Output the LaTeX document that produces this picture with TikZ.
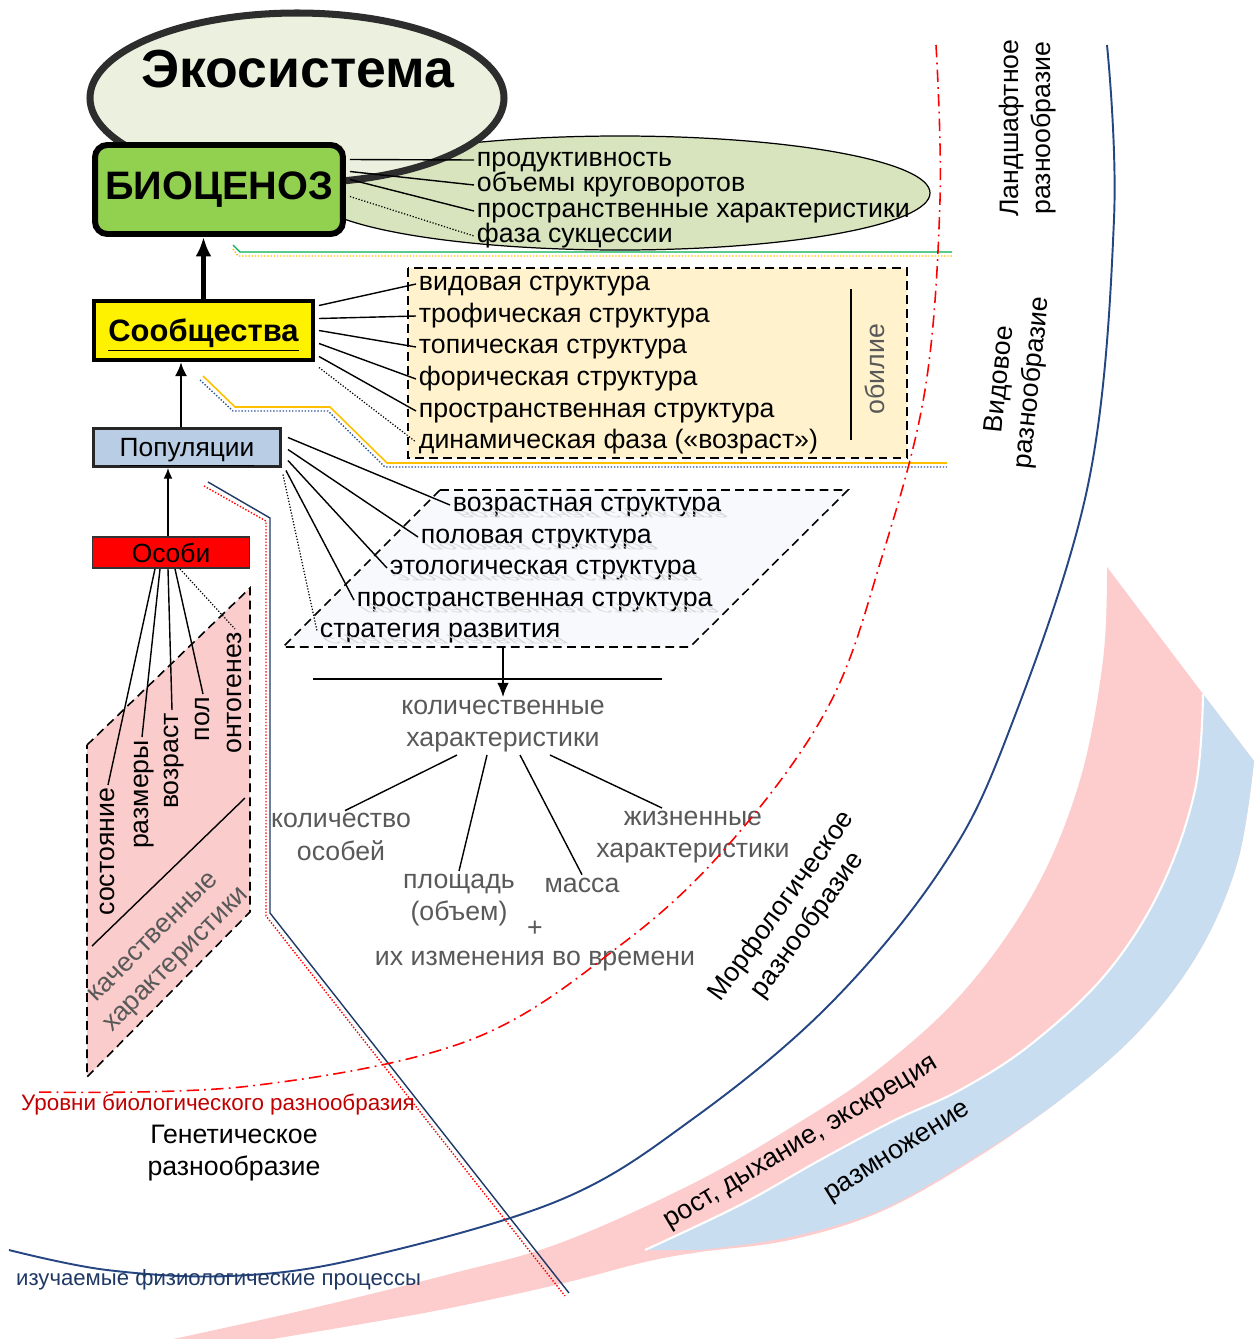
\documentclass[tikz,border=0pt]{standalone}
\usepackage{fontspec}
\setmainfont{Liberation Sans}
\usetikzlibrary{calc,arrows.meta}
\definecolor{ecofill}{RGB}{235,241,222}
\definecolor{ecoline}{RGB}{45,45,45}
\definecolor{biofill}{RGB}{146,208,80}
\definecolor{bioell}{RGB}{215,228,189}
\definecolor{commfill}{RGB}{255,242,204}
\definecolor{popfill}{RGB}{185,205,229}
\definecolor{parafill}{RGB}{247,249,252}
\definecolor{indfill}{RGB}{251,204,204}
\definecolor{bandred}{RGB}{253,204,204}
\definecolor{bandblue}{RGB}{200,222,240}
\definecolor{navyline}{RGB}{37,70,130}
\definecolor{navytext}{RGB}{31,56,100}
\definecolor{levelred}{RGB}{192,0,0}
\definecolor{softgray}{RGB}{89,89,89}
\definecolor{lineorange}{RGB}{255,192,0}
\definecolor{linegreen}{RGB}{0,176,80}
\definecolor{linedotblue}{RGB}{47,85,151}

\tikzset{
  txt/.style={font=\fontsize{15.2}{18.5}\selectfont, inner sep=1.5pt, text height=9.9pt, text depth=2pt},
  item/.style={txt, anchor=west},
  vtxt/.style={txt, rotate=90, anchor=east},
  multi/.style={font=\fontsize{15.2}{18.3}\selectfont, align=center, inner sep=1.5pt},
  qtext/.style={multi, text=softgray},
  mirror/.style={txt, anchor=base west, text=black!15, transform shape, yscale=-0.45, xslant=0.7},
  link/.style={line width=0.8pt},
  dotlink/.style={line width=0.7pt, densely dotted},
  boxdash/.style={line width=0.9pt, dash pattern=on 5pt off 3pt},
  levelline/.style={red, line width=0.9pt, dash pattern=on 7pt off 3pt on 1pt off 3pt},
  navyarc/.style={navyline, line width=1.1pt},
  biobox/.style={draw, line width=3.4pt, rounded corners=7pt, fill=biofill, minimum width=4.96cm, minimum height=1.78cm, font=\bfseries\fontsize{22.6}{27}\selectfont},
  socbox/.style={draw, line width=2.3pt, fill=yellow, minimum width=4.38cm, minimum height=1.18cm, text height=13.6pt, text depth=1pt, font=\bfseries\fontsize{17.6}{21}\selectfont},
  popbox/.style={draw=black!85, line width=1.7pt, fill=popfill, minimum width=3.74cm, minimum height=0.76cm, text height=12pt, text depth=1.2pt, font=\fontsize{15}{18}\selectfont},
  indbox/.style={draw=black!80, line width=0.9pt, fill=red, minimum width=3.14cm, minimum height=0.6cm, font=\fontsize{15}{18}\selectfont},
}

\begin{document}
\begin{tikzpicture}[x=0.02cm,y=-0.02cm]
\useasboundingbox (0,0) rectangle (1256,1339);

% bands of the physiological processes
\fill[bandred] plot[smooth, tension=0.6] coordinates {(1107,567) (1103,660) (1080,780) (1035,890) (965,990) (880,1068) (790,1128) (690,1185) (560,1243) (450,1274) (300,1311) (150,1344)}
  -- plot[smooth, tension=0.6] coordinates {(230,1346) (350,1326) (450,1308) (560,1284) (645,1262) (700,1252) (790,1240) (880,1212) (970,1162) (1060,1100) (1140,1030) (1200,950) (1238,860) (1254,761)} -- (1203,694) -- cycle;
\fill[bandblue] plot[smooth, tension=0.6] coordinates {(1203,694) (1195,790) (1160,890) (1105,975) (1030,1045) (960,1090) (895,1120) (820,1160) (740,1205) (645,1250)}
  -- plot[smooth, tension=0.6] coordinates {(700,1250) (790,1237) (880,1210) (970,1160) (1060,1100) (1140,1030) (1200,950) (1238,860) (1254,761)} -- cycle;
\draw[white, line width=1.2pt] plot[smooth, tension=0.6] coordinates {(1203,694) (1195,790) (1160,890) (1105,975) (1030,1045) (960,1090) (895,1120) (820,1160) (740,1205) (645,1250)};

\draw[navyarc] plot[smooth, tension=0.6] coordinates {(1107,45) (1114,219) (1088,485) (1006,739) (939,872) (828,1006) (694,1118) (560,1200) (357,1259) (229,1276) (107,1270) (9,1250)};

% borders between the levels
\draw[linegreen, line width=0.8pt] (233,245) -- (240,252) -- (952,252);
\draw[lineorange, densely dotted, line width=0.8pt] (233,249) -- (238,256) -- (952,256);
\draw[lineorange, line width=0.9pt] (203,376) -- (235,407) -- (330,407) -- (387,463) -- (947,463);
\draw[linedotblue, densely dotted, line width=0.8pt] (200,380) -- (233,411) -- (328,411) -- (385,467) -- (947,467);
\draw[red, densely dotted, line width=0.8pt] (204,486) -- (266,521) -- (266,916) -- (565,1296);
\draw[navytext, line width=0.8pt] (208,482) -- (270,518) -- (270,913) -- (569,1293);

% ecosystem, biocoenosis
\draw[line width=0.7pt, fill=bioell] (620,193) ellipse [x radius=310, y radius=57];
\draw[ecoline, line width=4pt, fill=ecofill] (297,98) ellipse [x radius=207, y radius=85];
\node[font=\bfseries\fontsize{30.5}{36}\selectfont] (eco) at (298,69) {Экосистема};
\node[biobox] (bio) at (219,189.5) {БИОЦЕНОЗ};
\node[item] (prod) at (474,160) {продуктивность};
\node[item] (cyc) at (474,185) {объемы круговоротов};
\node[item] (spchar) at (474,211) {пространственные характеристики};
\node[item] (succ) at (474,236) {фаза сукцессии};
\foreach \dy/\nm/\st in {-30/prod/link, -18/cyc/link, -10/spchar/link, 7/succ/dotlink}
  \draw[\st] ($(bio.east)+(4,\dy)$) -- (\nm.west);

% communities
\draw[boxdash, fill=commfill] (408,268) rectangle (907,458);
\node[socbox] (soc) at (203.5,330.5) {\underline{Сообщества}};
\draw[-{Latex[length=11pt,width=9pt]}, line width=2.4pt] (soc.north) -- (soc.north |- bio.south);
\node[item] (spec) at (416,284) {видовая структура};
\node[item] (troph) at (416,316) {трофическая структура};
\node[item] (topic) at (416,347) {топическая структура};
\node[item] (phor) at (416,379) {форическая структура};
\node[item] (cspat) at (416,411) {пространственная структура};
\node[item] (dyn) at (416,442) {динамическая фаза («возраст»)};
\foreach \dy/\nm/\st in {-25/spec/link, -12/troph/link, 0/topic/link, 13/phor/link, 26/cspat/link, 37/dyn/dotlink}
  \draw[\st] ($(soc.east)+(4,\dy)$) -- (\nm.west);
\draw[link] (851,289) -- (851,440);
\node[txt, rotate=90, text=softgray] (abund) at (878,369) {обилие};

% populations
\node[popbox] (pop) at (187,447.5) {\underline{Популяции}};
\draw[-{Latex[length=8pt,width=7pt]}, line width=1.7pt] (pop.north) ++(-6,0) coordinate (pu) -- (pu |- soc.south);
\draw[boxdash, fill=parafill] (440,490) -- (848,490) -- (690,647) -- (283,647) -- cycle;
\coordinate (parabot) at (503,647);
\node[item] (age) at (450,505) {возрастная структура};
\node[item] (sex) at (418,537) {половая структура};
\node[item] (etho) at (387,568) {этологическая структура};
\node[item] (pspat) at (354,600) {пространственная структура};
\node[item] (strat) at (317,631) {стратегия развития};
\foreach \nm/\tx in {age/возрастная структура, sex/половая структура, etho/этологическая структура, pspat/пространственная структура, strat/стратегия развития}
  \node[mirror] at (\nm.base west) {\tx};
\foreach \dx/\dy/\nm/\st in {6/-10/age/link, 6/2/sex/link, 6/13/etho/link, 4/23/pspat/link, 1/27/strat/dotlink}
  \draw[\st] ($(pop.east)+(\dx,\dy)$) -- (\nm.west);

% quantitative characteristics
\draw[link] (313,679) -- (662,679);
\node[qtext] (qty) at (503,726) {количественные\\характеристики};
\draw[-{Latex[length=8pt,width=6.5pt]}, link] (parabot) -- (qty.north);
\node[qtext] (cnt) at (341,837) {количество\\особей};
\node[qtext] (area) at (459,900) {площадь\\(объем)};
\node[qtext] (mass) at (582,885) {масса};
\node[qtext] (life) at (693,837) {жизненные\\характеристики};
\node[qtext] (plus) at (535,929) {+};
\node[qtext] (chg) at (535,961) {их изменения во времени};
\draw[link] ($(qty.south)+(-46,0)$) -- ($(cnt.north)+(4,0)$);
\draw[link] ($(qty.south)+(-16,0)$) -- (area.north);
\draw[link] ($(qty.south)+(17,0)$) -- (mass.north);
\draw[link] ($(qty.south)+(47,0)$) -- ($(life.north)+(-31,0)$);

% individuals
\node[indbox] (ind) at (171,552.5) {Особи};
\draw[-{Latex[length=6pt,width=5pt]}, line width=0.8pt] (ind.north) ++(-3,0) coordinate (iu) -- (iu |- pop.south);
\draw[boxdash, fill=indfill] (87,745) -- (250,588) -- (250,912) -- (87,1077) -- cycle;
\draw[link] (92,946) -- (245,798);
\node[vtxt] (state) at (108,785) {состояние};
\node[vtxt] (size) at (142,737) {размеры};
\node[vtxt] (iage) at (172,710) {возраст};
\node[vtxt] (isex) at (203,694) {пол};
\node[vtxt] (onto) at (235,629) {онтогенез};
\foreach \dx/\nm/\st in {-16/state/link, -11/size/link, -3/iage/link, 4/isex/link, 9/onto/dotlink}
  \draw[\st] ($(ind.south)+(\dx,0)$) -- (\nm.east);
\node[qtext, rotate=45] (qual) at (166,950) {качественные\\характеристики};

% levels of diversity
\node[multi, rotate=90] (land) at (1028,128) {Ландшафтное\\разнообразие};
\node[multi, rotate=84] (species) at (1017,381) {Видовое\\разнообразие};
\node[multi, rotate=54] (morph) at (795,916) {Морфологическое\\разнообразие};
\node[multi] (gen) at (234,1153) {Генетическое\\разнообразие};
\node[font=\fontsize{12.75}{15}\selectfont, text=levelred] (levels) at (218,1105) {Уровни биологического разнообразия};
\node[font=\fontsize{12.6}{15}\selectfont, text=navytext, anchor=west] (phys) at (10,1280) {изучаемые физиологические процессы};
\node[txt, rotate=31] (resp) at (801,1142) {рост, дыхание, экскреция};
\node[txt, rotate=32] (repro) at (897,1151) {размножение};

\draw[levelline] plot[smooth, tension=0.6] coordinates {(936,45) (940,200) (925,390) (881,560) (828,707) (730,843) (622,944) (470,1040) (250,1086) (37,1092)};
\end{tikzpicture}
\end{document}
